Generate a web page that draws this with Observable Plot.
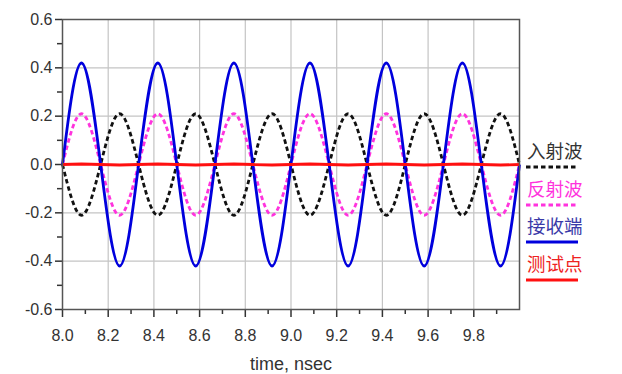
<!DOCTYPE html>
<html><head><meta charset="utf-8">
<script src="https://cdn.jsdelivr.net/npm/d3@7"></script>
<script src="https://cdn.jsdelivr.net/npm/@observablehq/plot@0.6"></script>
<style>
body{margin:0;background:#fff}
#wrap{position:relative;width:622px;height:374px;}
.item{position:absolute;left:525px;width:64px;font-family:"Noto Sans CJK SC",sans-serif;font-size:18.5px;line-height:22px}
.item span{display:block;padding-left:2px;white-space:nowrap;margin-top:-2px}
.item svg{position:absolute;left:0;top:22px}
</style></head>
<body><div id="wrap"></div>
<script>
// time samples (ns)
const times = [8.0, 8.083, 8.167, 8.25, 8.333, 8.417, 8.5, 8.583, 8.667, 8.75, 8.833, 8.917, 9.0,
  9.083, 9.167, 9.25, 9.333, 9.417, 9.5, 9.583, 9.667, 9.75, 9.833, 9.917, 10.0];
// 入射波 (incident, black dashed)
const incident = [0,-0.21,0,0.21, 0,-0.21,0,0.21, 0,-0.21,0,0.21, 0,-0.21,0,0.21, 0,-0.21,0,0.21, 0,-0.21,0,0.21, 0];
// 反射波 (reflected, magenta dashed)
const reflected = [0,0.21,0,-0.21, 0,0.21,0,-0.21, 0,0.21,0,-0.21, 0,0.21,0,-0.21, 0,0.21,0,-0.21, 0,0.21,0,-0.21, 0];
// 接收端 (receiver, blue)
const receiver = [0,0.42,0,-0.42, 0,0.42,0,-0.42, 0,0.42,0,-0.42, 0,0.42,0,-0.42, 0,0.42,0,-0.42, 0,0.42,0,-0.42, 0];
// 测试点 (test point, red)
const testPoint = [0,0.002,0,-0.002, 0,0.002,0,-0.002, 0,0.002,0,-0.002, 0,0.002,0,-0.002, 0,0.002,0,-0.002, 0,0.002,0,-0.002, 0];

const seriesNames = ["入射波","反射波","接收端","测试点"];
const seriesColors = ["#111111","#ff33dd","#0000dd","#ff1010"];
const textColors = ["#333333","#ff33dd","#3a3aa8","#ee2222"];
const seriesDash = ["4.5,3","4.5,3",null,null];
const seriesValues = [incident, reflected, receiver, testPoint];

const xMajor = [8.0, 8.2, 8.4, 8.6, 8.8, 9.0, 9.2, 9.4, 9.6, 9.8];
const xMinor = [8.1, 8.3, 8.5, 8.7, 8.9, 9.1, 9.3, 9.5, 9.7, 9.9];
const yMajor = [-0.6, -0.4, -0.2, 0.0, 0.2, 0.4, 0.6];
const yMinor = [-0.5, -0.3, -0.1, 0.1, 0.3, 0.5];

const fmt = d => (Math.abs(d) < 1e-9 ? 0 : d).toFixed(1);

const lines = seriesValues.map((vals, k) =>
  Plot.line(times.map((t, i) => ({t, v: vals[i]})), {
    x: "t", y: "v", stroke: seriesColors[k],
    strokeWidth: 2.8,
    strokeLinecap: "butt",
    strokeDasharray: seriesDash[k] || undefined,
    curve: k === 3 ? "linear" : "natural"
  }));

const plot = Plot.plot({
  width: 622, height: 374,
  marginLeft: 62, marginRight: 103, marginTop: 19, marginBottom: 65,
  x: {domain: [8, 10]},
  y: {domain: [-0.6, 0.6]},
  style: {fontFamily: "'Liberation Sans', Arial, sans-serif", fontSize: "16px", color: "#333", background: "#fff"},
  marks: [
    Plot.ruleX(xMajor.slice(1), {stroke: "#c4c4c4", strokeWidth: 1.2}),
    Plot.ruleY(yMajor.slice(1, -1), {stroke: "#c4c4c4", strokeWidth: 1.2}),
    Plot.axisY(yMajor, {tickFormat: fmt, tickSize: 7, tickPadding: 3, label: null, strokeWidth: 1.5}),
    Plot.axisY(yMinor, {tickFormat: () => "", tickSize: 5, label: null, strokeWidth: 1.5}),
    Plot.axisX(xMajor, {tickFormat: fmt, tickSize: 8, tickPadding: 12, label: "time, nsec", labelAnchor: "center", labelArrow: "none", labelOffset: 60, strokeWidth: 1.5}),
    Plot.axisX(xMinor, {tickFormat: () => "", tickSize: 5, label: null, strokeWidth: 1.5}),
    ...lines,
    Plot.frame({stroke: "#555", strokeWidth: 1.5})
  ]
});
const wrap = document.getElementById("wrap");
wrap.appendChild(plot);
plot.style.position = "absolute"; plot.style.left = "0"; plot.style.top = "0";
plot.querySelectorAll("text").forEach(t => {
  t.style.fontSize = t.textContent === "time, nsec" ? "18px" : "16px";
});

const itemTops = [141, 179, 216, 254];
seriesNames.forEach((name, k) => {
  const item = document.createElement("div");
  item.className = "item";
  item.style.top = itemTops[k] + "px";
  const span = document.createElement("span");
  span.textContent = name;
  span.style.color = textColors[k];
  item.appendChild(span);
  const svg = d3.create("svg").attr("width", 56).attr("height", 8);
  svg.append("line").attr("x1", 1).attr("x2", 53).attr("y1", 4).attr("y2", 4)
    .attr("stroke", seriesColors[k]).attr("stroke-width", 2.8)
    .attr("stroke-dasharray", seriesDash[k]);
  item.appendChild(svg.node());
  wrap.appendChild(item);
});
</script></body></html>
